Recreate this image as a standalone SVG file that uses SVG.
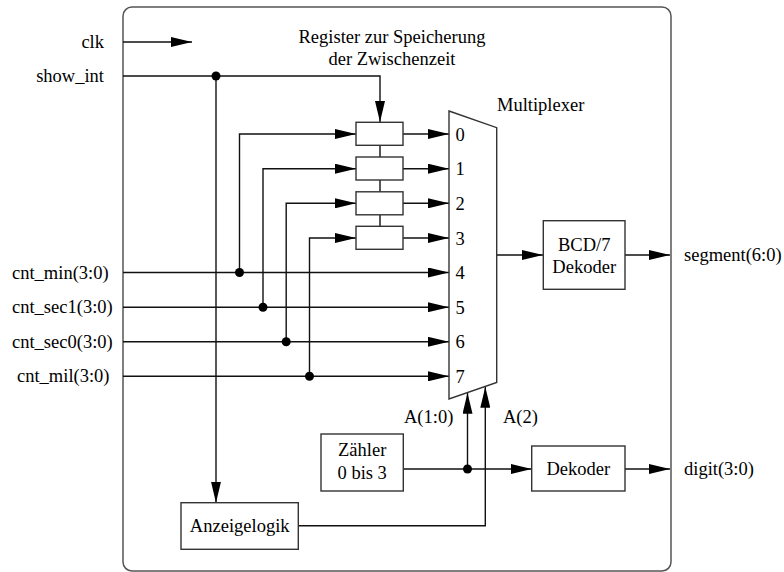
<svg xmlns="http://www.w3.org/2000/svg" width="784" height="572" viewBox="0 0 784 572">
<defs>
<marker id="arr" markerUnits="userSpaceOnUse" markerWidth="21" markerHeight="10" refX="21" refY="5" orient="auto">
<path d="M0,0 L21,5 L0,10 z" fill="#000"/>
</marker>
<style>
text{font-family:'Liberation Serif','Times New Roman','DejaVu Serif',serif;font-size:18.5px;fill:#000}
.c{text-anchor:middle}
.r{text-anchor:end}
.box{fill:#fff;stroke:#333;stroke-width:1.4}
.w{fill:none;stroke:#111;stroke-width:1.4}
.a{marker-end:url(#arr)}
.dot{fill:#000}
</style>
</defs>
<rect x="123" y="7" width="548" height="564" rx="9" ry="9" fill="none" stroke="#555" stroke-width="1.5"/>

<g id="labels" font-family="Liberation Serif, serif">
<text x="104" y="48" class="r">clk</text>
<text x="104" y="82" class="r">show_int</text>
<text x="12" y="279">cnt_min(3:0)</text>
<text x="12" y="313">cnt_sec1(3:0)</text>
<text x="12" y="348">cnt_sec0(3:0)</text>
<text x="17" y="382">cnt_mil(3:0)</text>
<text x="392" y="43" class="c">Register zur Speicherung</text>
<text x="392" y="64.5" class="c">der Zwischenzeit</text>
<text x="497" y="111">Multiplexer</text>
<text x="684" y="261">segment(6:0)</text>
<text x="684" y="475">digit(3:0)</text>
<text x="404" y="423">A(1:0)</text>
<text x="503" y="423">A(2)</text>
</g>

<g id="connectors">
<path class="w a" d="M123,42 H192"/>
<path class="w a" d="M123,76 H380 V122"/>
<path class="w a" d="M216,76 V502.7"/>
<path class="w" d="M380,145.3 V157 M380,180 V192 M380,215 V226"/>
<path class="w a" d="M239.5,272.5 V134 H356"/>
<path class="w a" d="M263,307.2 V168.7 H356"/>
<path class="w a" d="M286.2,341.8 V203.3 H356"/>
<path class="w a" d="M309.5,376.3 V238 H356"/>
<path class="w a" d="M403,134 H449"/>
<path class="w a" d="M403,168.7 H449"/>
<path class="w a" d="M403,203.3 H449"/>
<path class="w a" d="M403,238 H449"/>
<path class="w a" d="M123,272.5 H449"/>
<path class="w a" d="M123,307.2 H449"/>
<path class="w a" d="M123,341.8 H449"/>
<path class="w a" d="M123,376.3 H449"/>
<path class="w a" d="M496.7,255 H543"/>
<path class="w a" d="M625,255 H670"/>
<path class="w a" d="M403.3,469 H531.7"/>
<path class="w a" d="M467.5,469 V392.8"/>
<path class="w a" d="M298.3,525.7 H485.3 V386.8"/>
<path class="w a" d="M625,469 H670"/>
<circle class="dot" cx="216" cy="76" r="4.5"/>
<circle class="dot" cx="239.5" cy="272.5" r="4.5"/>
<circle class="dot" cx="263" cy="307.2" r="4.5"/>
<circle class="dot" cx="286.2" cy="341.8" r="4.5"/>
<circle class="dot" cx="309.5" cy="376.3" r="4.5"/>
<circle class="dot" cx="467.5" cy="469" r="4.5"/>
</g>

<g id="registers">
<rect class="box" x="356" y="122.3" width="47" height="23"/>
<rect class="box" x="356" y="157" width="47" height="23"/>
<rect class="box" x="356" y="191.8" width="47" height="23"/>
<rect class="box" x="356" y="226.3" width="47" height="23"/>
</g>

<g id="mux">
<path class="box" d="M449,111 L496.7,127.7 L496.7,382.5 L449,399 Z"/>
<text x="455.5" y="140.5">0</text>
<text x="455.5" y="175.2">1</text>
<text x="455.5" y="209.8">2</text>
<text x="455.5" y="244.5">3</text>
<text x="455.5" y="279">4</text>
<text x="455.5" y="313.7">5</text>
<text x="455.5" y="348.3">6</text>
<text x="455.5" y="382.8">7</text>
</g>

<g id="bcd">
<rect class="box" x="543.3" y="220.7" width="81.7" height="68.6"/>
<text x="584.2" y="250.7" class="c">BCD/7</text>
<text x="584.2" y="273.3" class="c">Dekoder</text>
</g>

<g id="zaehler">
<rect class="box" x="321" y="434" width="82.3" height="57"/>
<text x="362.2" y="456" class="c">Zähler</text>
<text x="362.2" y="479.3" class="c">0 bis 3</text>
</g>

<g id="dekoder">
<rect class="box" x="531.7" y="446" width="93.3" height="45"/>
<text x="578.3" y="475" class="c">Dekoder</text>
</g>

<g id="anzeigelogik">
<rect class="box" x="181" y="502.7" width="117.3" height="46.6"/>
<text x="239.7" y="531.7" class="c">Anzeigelogik</text>
</g>
</svg>
